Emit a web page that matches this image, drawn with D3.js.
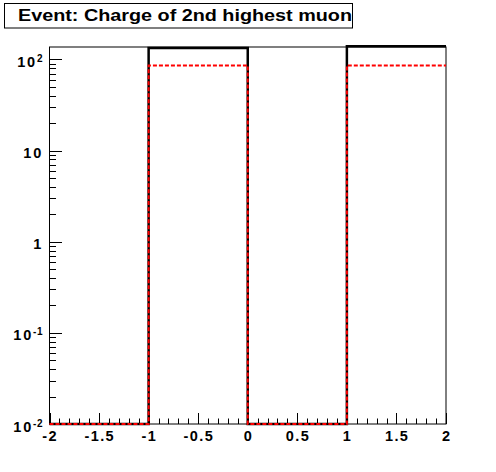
<!DOCTYPE html>
<html><head><meta charset="utf-8">
<script src="https://cdn.jsdelivr.net/npm/d3@7"></script>
<style>body{margin:0;background:#fff}svg{display:block}text{font-family:"Liberation Sans",Arial,sans-serif;font-weight:bold}</style>
</head><body>
<script>
const title = "Event: Charge of 2nd highest muon";
const binEdges = [-2, -1, 0, 1, 2];
const blackValues = [0, 134, 0, 140];
const redValues = [0, 86, 0, 86];
const xTickLabels = ["-2","-1.5","-1","-0.5","0","0.5","1","1.5","2"];
const yDecades = [0.01, 0.1, 1, 10, 100];
const yDecadeLabels = [["10","-2"],["10","-1"],["1",""],["10",""],["10","2"]];

const W = 496, H = 472;
const L = 49.5, R = 446, T = 47, B = 424;
const yMin = 0.01, yMax = 137;

const svg = d3.select("body").append("svg").attr("width", W).attr("height", H);
const x = d3.scaleLinear().domain([-2, 2]).range([L, R]);
const y = d3.scaleLog().domain([yMin, yMax]).range([B, T]);

// frame
svg.append("rect").attr("x", L).attr("y", T).attr("width", R - L).attr("height", B - T)
  .attr("fill", "none").attr("stroke", "#000").attr("stroke-width", 1);

// x ticks
const xMinor = d3.range(-20, 21).map(d => d / 10);
svg.append("g").selectAll("line").data(xMinor).join("line")
  .attr("x1", d => Math.round(x(d)) + 0.5).attr("x2", d => Math.round(x(d)) + 0.5)
  .attr("y1", B).attr("y2", (d, i) => B - (i % 5 === 0 ? 11 : 5.5))
  .attr("stroke", "#000").attr("stroke-width", 1);
svg.append("g").selectAll("text").data(xTickLabels).join("text")
  .attr("x", d => x(+d) + 0.7).attr("y", 441.3)
  .attr("text-anchor", "middle").attr("font-size", 14.5).attr("letter-spacing", 1.4).text(d => d);

// y ticks
const yMinor = [];
yDecades.forEach(dec => { for (let k = 2; k <= 9; k++) { const v = dec * k; if (v <= yMax) yMinor.push(v); } });
svg.append("g").selectAll("line").data(yMinor).join("line")
  .attr("x1", L).attr("x2", L + 6.5).attr("y1", d => Math.round(y(d)) + 0.5).attr("y2", d => Math.round(y(d)) + 0.5)
  .attr("stroke", "#000").attr("stroke-width", 1);
svg.append("g").selectAll("line").data(yDecades).join("line")
  .attr("x1", L).attr("x2", L + 12.5).attr("y1", d => Math.round(y(d)) + 0.5).attr("y2", d => Math.round(y(d)) + 0.5)
  .attr("stroke", "#000").attr("stroke-width", 1);
const yl = svg.append("g").selectAll("text").data(yDecades).join("text")
  .attr("x", 43).attr("y", d => y(d) + 7.5)
  .attr("text-anchor", "end").attr("font-size", 14.5);
yl.each(function(d, i) {
  const t = d3.select(this); const lab = yDecadeLabels[i];
  t.append("tspan").attr("letter-spacing", 1.8).text(lab[0]);
  if (lab[1]) t.append("tspan").attr("font-size", 10).attr("dy", -5).attr("letter-spacing", 0.5).text(lab[1]);
});

// histograms
function histPath(vals) {
  const pts = [];
  vals.forEach((v, i) => {
    const yy = v > yMin ? y(v) : B;
    pts.push([x(binEdges[i]), yy], [x(binEdges[i + 1]), yy]);
  });
  return d3.line()(pts);
}
svg.append("path").attr("d", histPath(blackValues)).attr("fill", "none")
  .attr("stroke", "#000").attr("stroke-width", 2.5);
svg.append("path").attr("d", histPath(redValues)).attr("fill", "none")
  .attr("stroke", "#ff0000").attr("stroke-width", 2).attr("stroke-dasharray", "4,2");

// title box
svg.append("rect").attr("x", 4.5).attr("y", 3.5).attr("width", 348).attr("height", 24.5)
  .attr("fill", "#fff").attr("stroke", "#000").attr("stroke-width", 1);
const tt = svg.append("text").attr("x", 18).attr("y", 20.5).attr("font-size", 16).text(title);
tt.attr("textLength", 334).attr("lengthAdjust", "spacingAndGlyphs");
</script>
</body></html>
